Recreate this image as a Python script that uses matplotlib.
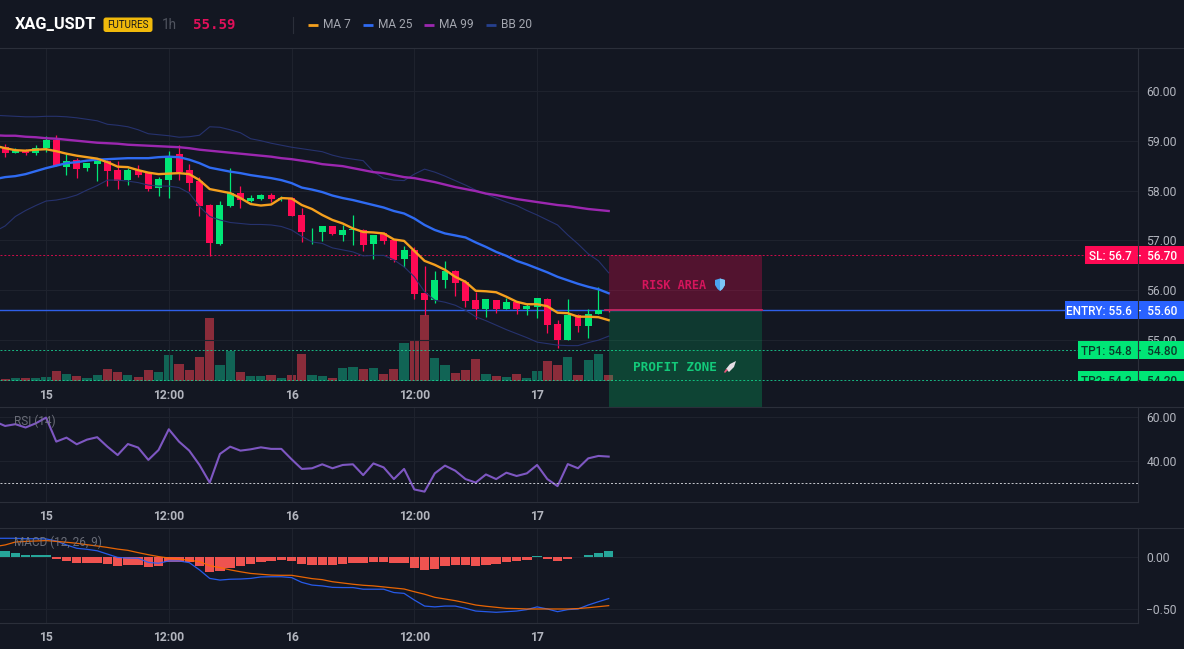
import numpy as np
import matplotlib
matplotlib.use("Agg")
from matplotlib import pyplot as plt
from matplotlib.patches import Rectangle, FancyBboxPatch, Polygon
from matplotlib.transforms import Affine2D, Bbox, blended_transform_factory

# hourly candles, hour 0 is the start of the 15th
hours = np.arange(-5, 56)
tick_hours = [0, 12, 24, 36, 48]
tick_names = ["15", "12:00", "16", "12:00", "17"]

opens = [58.95, 58.88, 58.76, 58.82, 58.75, 58.86, 59.02, 58.48, 58.62, 58.45, 58.53, 58.60, 58.41, 58.21, 58.41, 58.35,
         58.06, 58.21, 58.74, 58.41, 58.19, 57.71, 56.93, 57.69, 57.96, 57.79, 57.83, 57.91, 57.84, 57.85, 57.51,
         57.18, 57.17, 57.28, 57.11, 57.21, 57.21, 56.93, 57.14, 57.01, 56.63, 56.81, 55.94, 55.80, 56.20, 56.39,
         56.17, 55.80, 55.62, 55.80, 55.62, 55.77, 55.62, 55.67, 55.82, 55.32, 55.00, 55.50, 55.28, 55.53, 55.60]
closes = [58.88, 58.75, 58.82, 58.75, 58.86, 59.02, 58.50, 58.60, 58.43, 58.56, 58.60, 58.39, 58.20, 58.41, 58.31, 58.03,
          58.23, 58.67, 58.37, 58.16, 57.69, 56.95, 57.71, 57.95, 57.81, 57.85, 57.91, 57.83, 57.85, 57.49, 57.17,
          57.19, 57.28, 57.13, 57.21, 57.23, 56.91, 57.11, 56.99, 56.61, 56.81, 55.92, 55.80, 56.20, 56.39, 56.14,
          55.78, 55.62, 55.82, 55.62, 55.76, 55.62, 55.69, 55.84, 55.30, 55.00, 55.50, 55.28, 55.53, 55.60, 55.59]
highs = [59.00, 58.94, 58.85, 58.84, 58.91, 59.10, 59.12, 58.73, 58.65, 58.56, 58.65, 58.62, 58.60, 58.46, 58.51, 58.38,
         58.28, 58.80, 58.92, 58.53, 58.28, 57.74, 57.79, 58.45, 58.09, 57.91, 57.93, 57.95, 57.90, 57.88, 57.66,
         57.24, 57.29, 57.29, 57.31, 57.51, 57.23, 57.11, 57.16, 57.03, 56.89, 56.87, 56.49, 56.39, 56.59, 56.41,
         56.20, 55.97, 55.82, 55.80, 55.85, 55.79, 55.73, 55.84, 55.84, 55.40, 55.82, 55.52, 55.63, 56.06, 55.60]
lows = [58.85, 58.68, 58.75, 58.71, 58.72, 58.77, 58.50, 58.31, 58.26, 58.40, 58.20, 58.10, 58.03, 58.11, 58.27, 57.99,
        57.89, 57.86, 58.21, 58.00, 57.49, 56.69, 56.90, 57.68, 57.66, 57.77, 57.82, 57.78, 57.79, 57.49, 56.96,
        56.93, 56.99, 57.10, 56.99, 56.91, 56.79, 56.63, 56.93, 56.57, 56.47, 55.82, 55.50, 55.75, 56.04, 55.88,
        55.66, 55.42, 55.47, 55.55, 55.62, 55.52, 55.50, 55.44, 55.15, 54.85, 55.00, 55.17, 55.05, 55.52, 55.57]

ma7 = [58.90, 58.85, 58.81, 58.80, 58.82, 58.83, 58.79, 58.74, 58.70, 58.67, 58.64, 58.57, 58.48, 58.47, 58.41, 58.36,
       58.33, 58.34, 58.35, 58.33, 58.21, 58.03, 57.99, 57.95, 57.85, 57.73, 57.70, 57.72, 57.85, 57.84, 57.71,
       57.63, 57.51, 57.41, 57.34, 57.24, 57.17, 57.16, 57.14, 57.02, 56.99, 56.79, 56.59, 56.51, 56.41, 56.27,
       56.17, 55.99, 55.98, 55.96, 55.87, 55.77, 55.72, 55.72, 55.68, 55.55, 55.54, 55.47, 55.47, 55.46, 55.40]
ma25 = [58.23, 58.27, 58.29, 58.33, 58.39, 58.45, 58.50, 58.55, 58.57, 58.60, 58.62, 58.63, 58.64, 58.65, 58.65, 58.65,
        58.67, 58.68, 58.67, 58.62, 58.55, 58.46, 58.42, 58.38, 58.35, 58.31, 58.28, 58.25, 58.21, 58.15, 58.06,
        58.02, 57.97, 57.90, 57.85, 57.81, 57.76, 57.71, 57.66, 57.59, 57.54, 57.44, 57.31, 57.21, 57.14, 57.10,
        57.06, 56.96, 56.87, 56.77, 56.69, 56.59, 56.52, 56.44, 56.36, 56.27, 56.20, 56.13, 56.07, 56.02, 55.94]
ma99 = [59.11, 59.10, 59.10, 59.08, 59.07, 59.05, 59.04, 59.02, 59.00, 58.98, 58.96, 58.95, 58.94, 58.92, 58.91, 58.90,
        58.89, 58.88, 58.87, 58.85, 58.82, 58.80, 58.78, 58.76, 58.74, 58.72, 58.70, 58.68, 58.65, 58.63, 58.60,
        58.57, 58.53, 58.51, 58.49, 58.45, 58.41, 58.37, 58.35, 58.31, 58.27, 58.25, 58.21, 58.17, 58.12, 58.07,
        58.03, 57.99, 57.94, 57.91, 57.87, 57.83, 57.80, 57.77, 57.74, 57.71, 57.69, 57.66, 57.63, 57.61, 57.59]
bb_upper = [59.51, 59.50, 59.49, 59.48, 59.48, 59.49, 59.49, 59.48, 59.46, 59.43, 59.40, 59.33, 59.31, 59.28, 59.22, 59.14,
            59.12, 59.10, 59.07, 59.08, 59.11, 59.28, 59.27, 59.22, 59.16, 59.04, 59.00, 58.95, 58.91, 58.87, 58.84,
            58.81, 58.78, 58.71, 58.66, 58.63, 58.60, 58.38, 58.25, 58.21, 58.20, 58.33, 58.43, 58.37, 58.29, 58.20,
            58.11, 58.01, 57.93, 57.85, 57.77, 57.70, 57.60, 57.51, 57.41, 57.31, 57.11, 56.93, 56.73, 56.59, 56.35]
bb_lower = [57.18, 57.29, 57.48, 57.60, 57.70, 57.79, 57.81, 57.85, 57.91, 58.01, 58.10, 58.21, 58.21, 58.19, 58.16, 58.11,
            58.09, 58.09, 58.06, 57.95, 57.68, 57.48, 57.41, 57.36, 57.34, 57.32, 57.32, 57.31, 57.28, 57.21, 57.08,
            56.97, 56.94, 56.85, 56.81, 56.77, 56.69, 56.70, 56.70, 56.61, 56.47, 56.27, 55.97, 55.80, 55.76, 55.70,
            55.60, 55.47, 55.39, 55.30, 55.21, 55.13, 55.05, 54.96, 54.93, 54.90, 54.89, 54.89, 54.95, 55.00, 55.08]

volumes = [5, 5, 8, 8, 8, 12, 30, 21, 15, 8, 17, 36, 27, 17, 12, 32,
           27, 78, 51, 33, 72, 189, 48, 91, 27, 14, 14, 18, 8, 18, 81,
           18, 15, 8, 38, 42, 36, 39, 21, 36, 114, 120, 198, 69, 48, 24,
           33, 66, 21, 15, 12, 21, 9, 30, 60, 48, 72, 18, 63, 81, 18]

rsi = [57.9, 55.9, 56.7, 55.2, 57.1, 59.7, 48.8, 50.6, 47.6, 49.7, 50.8, 46.5, 42.7, 47.7, 46.1, 40.5,
       45.0, 54.4, 48.8, 44.7, 38.2, 30.2, 43.2, 46.5, 44.7, 45.3, 46.2, 45.5, 45.5, 40.8, 36.4,
       36.7, 38.5, 36.7, 38.2, 38.5, 33.6, 38.9, 37.1, 31.8, 36.4, 27.1, 26.1, 34.4, 37.9, 35.6,
       31.8, 30.2, 33.9, 31.8, 34.7, 33.2, 34.4, 38.2, 31.8, 28.6, 38.6, 36.7, 41.2, 42.3, 42.0]

macd = [0.18, 0.18, 0.18, 0.176, 0.176, 0.174, 0.154, 0.116, 0.084, 0.074, 0.06, 0.028, -0.004, -0.01, -0.012, -0.052,
        -0.06, -0.038, -0.038, -0.054, -0.124, -0.206, -0.222, -0.214, -0.212, -0.206, -0.192, -0.19, -0.19, -0.198, -0.244,
        -0.27, -0.278, -0.292, -0.294, -0.294, -0.31, -0.31, -0.31, -0.342, -0.35, -0.414, -0.472, -0.48, -0.472, -0.472,
        -0.494, -0.52, -0.526, -0.532, -0.526, -0.52, -0.506, -0.48, -0.5, -0.526, -0.506, -0.5, -0.462, -0.43, -0.4]
signal = [0.1, 0.116, 0.144, 0.15, 0.154, 0.158, 0.15, 0.142, 0.132, 0.118, 0.106, 0.092, 0.076, 0.064, 0.042, 0.022,
          0.004, -0.01, -0.02, -0.032, -0.044, -0.084, -0.102, -0.124, -0.142, -0.158, -0.166, -0.174, -0.176, -0.176, -0.192,
          -0.208, -0.218, -0.238, -0.25, -0.262, -0.272, -0.278, -0.288, -0.298, -0.308, -0.334, -0.358, -0.388, -0.404, -0.42,
          -0.44, -0.462, -0.474, -0.484, -0.494, -0.496, -0.5, -0.5, -0.5, -0.5, -0.5, -0.496, -0.488, -0.478, -0.468]
macd_hist = [0.06, 0.06, 0.038, 0.02, 0.016, 0.016, -0.022, -0.038, -0.058, -0.058, -0.058, -0.068, -0.086, -0.076, -0.076, -0.096,
             -0.086, -0.044, -0.044, -0.052, -0.09, -0.142, -0.134, -0.106, -0.086, -0.068, -0.048, -0.038, -0.028, -0.038, -0.068,
             -0.08, -0.08, -0.08, -0.068, -0.058, -0.058, -0.048, -0.048, -0.058, -0.058, -0.106, -0.126, -0.116, -0.086, -0.076,
             -0.076, -0.086, -0.076, -0.068, -0.048, -0.038, -0.028, 0.012, -0.02, -0.038, -0.02, 0.004, 0.02, 0.038, 0.058]

last_price = 55.59
stop_loss = 56.7
entry = 55.6
tp1 = 54.8
tp2 = 54.2
zone_start = 55
zone_end = 70
zone_floor = 53.65

W, H = 1184, 649
AXIS_RIGHT = 1138
BG = "#131722"
GRID = "#1e222d"
EDGE = "#2b2f3a"
LABEL = "#b2b5be"
UP = "#00e676"
DOWN = "#ff0a54"
FONT = "Roboto"

plt.rcParams["font.family"] = [FONT, "DejaVu Sans"]
fig = plt.figure(figsize=(W / 100, H / 100), dpi=100, facecolor=BG)
# pixel coordinates with y going down, used for the header and overlays
pix = Affine2D().scale(1, -1).translate(0, H)


def pane(top, bottom, ylim, yticks, ylabels):
    ax = fig.add_axes([0, 1 - bottom / H, AXIS_RIGHT / W, (bottom - top) / H], facecolor=BG)
    ax.set_xlim(-4.5, 106.74)
    ax.set_ylim(*ylim)
    ax.yaxis.tick_right()
    ax.set_yticks(yticks)
    ax.set_yticklabels(ylabels, color=LABEL, fontsize=8.7)
    ax.set_xticks(tick_hours)
    ax.set_xticklabels(tick_names, color=LABEL, fontsize=8.7, fontweight="bold")
    ax.tick_params(axis="both", length=0)
    ax.tick_params(axis="y", pad=6)
    ax.tick_params(axis="x", pad=6)
    ax.grid(True, color=GRID, lw=0.8)
    ax.set_axisbelow(True)
    for side in ["top", "left"]:
        ax.spines[side].set_visible(False)
    for side in ["right", "bottom"]:
        ax.spines[side].set_color(EDGE)
        ax.spines[side].set_linewidth(0.8)
    return ax


price_ticks = [55, 56, 57, 58, 59, 60]
ax = pane(49, 381, (54.18, 60.84), price_ticks, [f"{p:.2f}" for p in price_ticks])
ax.spines["bottom"].set_visible(False)
ax.spines["right"].set_zorder(12)

# volume sits behind the candles on its own scale
ax_vol = ax.twinx()
ax_vol.set_ylim(0, 996)
ax_vol.set_facecolor(BG)
ax_vol.set_yticks([])
for s in ax_vol.spines.values():
    s.set_visible(False)
ax.set_zorder(ax_vol.get_zorder() + 1)
ax.patch.set_visible(False)
# twinx moves the price scale to the left, put it back
ax.yaxis.tick_right()
ax.tick_params(axis="y", length=0, pad=6)

is_up = np.array(closes) >= np.array(opens)
ax_vol.bar(hours, volumes, width=0.9, color=["#116455" if u else "#8a2c3a" for u in is_up])

candle_colors = [UP if u else DOWN for u in is_up]
ax.vlines(hours, lows, highs, colors=candle_colors, lw=0.9, zorder=3)
ax.bar(hours, np.abs(np.array(closes) - np.array(opens)), bottom=np.minimum(opens, closes),
       width=0.68, color=candle_colors, zorder=3)

ax.plot(hours, bb_upper, color="#26326e", lw=0.8, zorder=3)
ax.plot(hours, bb_lower, color="#26326e", lw=0.8, zorder=3)
ax.plot(hours, ma99, color="#9c27b0", lw=1.7, zorder=3)
ax.plot(hours, ma25, color="#2f6bf2", lw=1.7, zorder=3)
ax.plot(hours, ma7, color="#f5a01e", lw=1.7, zorder=3)

ax.axhline(stop_loss, color=DOWN, lw=0.7, ls=(0, (2, 2)), alpha=0.8, zorder=2)
ax.axhline(entry, color="#2f5fe8", lw=1.0, zorder=2)
ax.axhline(tp1, color="#19d493", lw=0.7, ls=(0, (2, 2)), alpha=0.85, zorder=2)
ax.axhline(tp2, color="#19d493", lw=0.7, ls=(0, (2, 2)), alpha=0.85, zorder=2)

# risk and profit boxes run past the bottom of the price pane
ax.add_patch(Rectangle((zone_start, entry), zone_end - zone_start, stop_loss - entry,
                       fc=DOWN, alpha=0.27, ec="none", zorder=4))
ax.add_patch(Rectangle((zone_start, tp1), zone_end - zone_start, entry - tp1,
                       fc=UP, alpha=0.17, ec="none", zorder=4))
ax.add_patch(Rectangle((zone_start, zone_floor), zone_end - zone_start, tp1 - zone_floor,
                       fc=UP, alpha=0.22, ec="none", zorder=4, clip_on=False))
ax.plot([zone_start - 0.4, zone_end], [entry, entry], color="#c2255f", lw=1.3, zorder=5)

mid = (zone_start + zone_end) / 2
ax.text(mid - 1.1, 56.10, "RISK AREA", color="#d5155c", fontsize=8.6, fontweight="bold", ha="center", va="center",
        family="DejaVu Sans Mono", zorder=6)
ax.text(mid - 1.0, 54.46, "PROFIT ZONE", color="#13c97a", fontsize=9.2, fontweight="bold", ha="center", va="center",
        family="DejaVu Sans Mono", zorder=6)

# shield and rocket marks next to the box captions
fig.add_artist(Polygon([(715, 280), (720, 278.5), (725, 280), (725, 285), (722.5, 289), (720, 291), (717.5, 289), (715, 285)],
                       closed=True, fc="#4aa3f0", ec="none", transform=pix, zorder=20))
fig.add_artist(Polygon([(720, 278.5), (725, 280), (725, 285), (722.5, 289), (720, 291)],
                       closed=True, fc="#7cc4f5", ec="none", transform=pix, zorder=21))
fig.add_artist(Polygon([(736, 361), (734, 367), (729, 372), (726, 369), (730, 364)],
                       closed=True, fc="#e6dfe6", ec="none", transform=pix, zorder=20))
fig.add_artist(Polygon([(728, 370), (725, 373), (724, 372), (726, 369)],
                       closed=True, fc="#e8557a", ec="none", transform=pix, zorder=21))

# price tags on the scale, the pane cuts off anything below its bottom edge
tag_clip = Bbox([[0, H - 381], [W, H - 49]])
tag_trans = blended_transform_factory(ax.transAxes, ax.transData)


def price_tag(price, name, left, face, ink):
    box = Rectangle((left / AXIS_RIGHT, price - 0.18), (W - left) / AXIS_RIGHT, 0.36, transform=tag_trans,
                    fc=face, ec="none", zorder=10)
    ax.add_patch(box)
    box.set_clip_path(None)
    box.set_clip_box(tag_clip)
    t = ax.text((W - 7) / AXIS_RIGHT, price, f"{name}: {price:g}  -  {price:.2f}", transform=tag_trans,
                color=ink, fontsize=8.5, fontweight="medium", ha="right", va="center_baseline", zorder=11, clip_on=True)
    t.set_clip_path(None)
    t.set_clip_box(tag_clip)


price_tag(stop_loss, "SL", 1085, "#ff0a54", "white")
price_tag(entry, "ENTRY", 1065, "#2962ff", "white")
price_tag(tp1, "TP1", 1078, "#00e676", "#0b3b2a")
price_tag(tp2, "TP2", 1078, "#00e676", "#0b3b2a")

# RSI pane
ax_rsi = pane(407, 502, (21.4, 64.5), [40, 60], ["40.00", "60.00"])
ax_rsi.plot(hours, rsi, color="#7e57c2", lw=1.5)
ax_rsi.axhline(30, color="#c8cad0", lw=0.7, ls=(0, (2, 2)))
ax_rsi.text(14 / AXIS_RIGHT, 0.85, "RSI (14)", transform=ax_rsi.transAxes, color="#787b86", alpha=0.85,
            fontsize=8.5, va="center")

# MACD pane
ax_macd = pane(528, 623, (-0.635, 0.279), [0, -0.5], ["0.00", "\u22120.50"])
hist_colors = ["#26a69a" if v >= 0 else "#ef5350" for v in macd_hist]
ax_macd.bar(hours, macd_hist, width=0.92, color=hist_colors, zorder=2)
ax_macd.plot(hours, macd, color="#2962ff", lw=0.9, alpha=0.9, zorder=3)
ax_macd.plot(hours, signal, color="#ff6d00", lw=0.9, alpha=0.9, zorder=3)
ax_macd.text(14 / AXIS_RIGHT, 0.85, "MACD (12, 26, 9)", transform=ax_macd.transAxes, color="#787b86", alpha=0.85,
             fontsize=8.5, va="center", zorder=4)

# pane separators across the whole width
for y in [48, 407, 528]:
    fig.add_artist(plt.Line2D([0, W], [y, y], color=EDGE, lw=0.8, transform=pix))

# header bar
fig.text(15, 24.5, "XAG_USDT", transform=pix, color="white", fontsize=11.8, fontweight="bold", va="center")
fig.add_artist(FancyBboxPatch((104, 18), 48, 13.5, boxstyle="round,pad=0.5,rounding_size=2.5", fc="#f0b90b", ec="none",
                              transform=pix))
fig.text(128, 25, "FUTURES", transform=pix, color="#1a1a1a", fontsize=7.1, ha="center", va="center", zorder=5)
fig.text(162, 25, "1h", transform=pix, color="#50545f", fontsize=9.8, va="center")
fig.text(193, 25, f"{last_price:.2f}", transform=pix, color="#e0105a", fontsize=10.2, fontweight="bold", va="center",
         family="DejaVu Sans Mono")
fig.add_artist(plt.Line2D([293, 293], [17, 33], color=EDGE, lw=0.8, transform=pix))

legend_names = ["MA 7", "MA 25", "MA 99", "BB 20"]
legend_colors = ["#f5a01e", "#2f6bf2", "#9c27b0", "#26408e"]
legend_x = [308, 363, 424, 486]
for name, color, x in zip(legend_names, legend_colors, legend_x):
    fig.add_artist(plt.Line2D([x, x + 10], [24.5, 24.5], color=color, lw=2, transform=pix, solid_capstyle="butt"))
    fig.text(x + 15, 24.5, name, transform=pix, color="#a3a6af", fontsize=8.6, va="center")

fig.savefig("out.png", dpi=100, facecolor=BG)
